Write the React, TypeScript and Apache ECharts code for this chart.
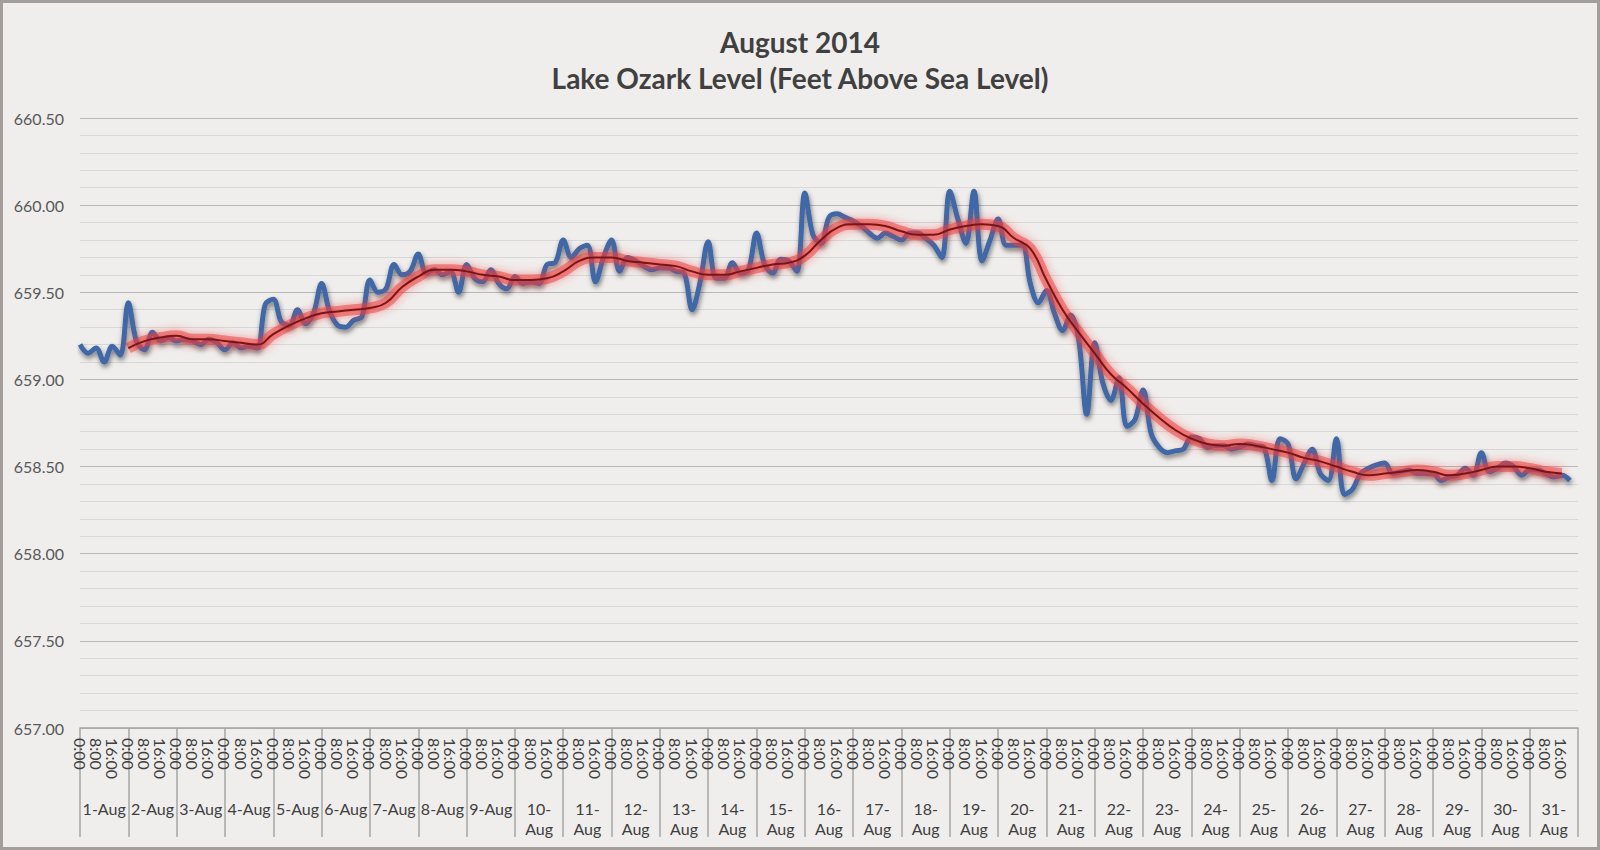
import { useEffect, useRef } from "react";
import * as echarts from "echarts";

// lake level read every 4 hours: 0:00, 4:00, 8:00, 12:00, 16:00, 20:00 of each day
const dayLabels = [
  "1-Aug", "2-Aug", "3-Aug", "4-Aug", "5-Aug", "6-Aug", "7-Aug", "8-Aug", "9-Aug", "10-Aug",
  "11-Aug", "12-Aug", "13-Aug", "14-Aug", "15-Aug", "16-Aug", "17-Aug", "18-Aug", "19-Aug", "20-Aug",
  "21-Aug", "22-Aug", "23-Aug", "24-Aug", "25-Aug", "26-Aug", "27-Aug", "28-Aug", "29-Aug", "30-Aug",
  "31-Aug",
];

const lakeLevel = [
  [659.2, 659.15, 659.18, 659.1, 659.19, 659.14],
  [659.44, 659.22, 659.17, 659.27, 659.22, 659.24],
  [659.22, 659.23, 659.22, 659.2, 659.23, 659.21],
  [659.17, 659.21, 659.18, 659.19, 659.18, 659.43],
  [659.46, 659.33, 659.31, 659.4, 659.32, 659.38],
  [659.55, 659.39, 659.31, 659.3, 659.34, 659.36],
  [659.57, 659.5, 659.52, 659.66, 659.6, 659.62],
  [659.72, 659.61, 659.63, 659.6, 659.62, 659.5],
  [659.66, 659.58, 659.56, 659.63, 659.55, 659.52],
  [659.59, 659.55, 659.56, 659.55, 659.66, 659.67],
  [659.8, 659.7, 659.75, 659.77, 659.56, 659.7],
  [659.8, 659.62, 659.7, 659.68, 659.65, 659.63],
  [659.64, 659.64, 659.62, 659.61, 659.4, 659.56],
  [659.79, 659.58, 659.58, 659.67, 659.61, 659.63],
  [659.84, 659.66, 659.61, 659.69, 659.68, 659.62],
  [660.07, 659.83, 659.78, 659.93, 659.95, 659.93],
  [659.91, 659.88, 659.84, 659.81, 659.84, 659.82],
  [659.8, 659.84, 659.84, 659.81, 659.77, 659.7],
  [660.08, 659.92, 659.78, 660.08, 659.68, 659.8],
  [659.92, 659.77, 659.77, 659.77, 659.55, 659.44],
  [659.51, 659.38, 659.28, 659.37, 659.23, 658.8],
  [659.21, 658.98, 658.88, 659.01, 658.73, 658.77],
  [658.94, 658.69, 658.61, 658.58, 658.59, 658.6],
  [658.67, 658.66, 658.61, 658.62, 658.62, 658.6],
  [658.61, 658.63, 658.62, 658.61, 658.42, 658.66],
  [658.63, 658.43, 658.52, 658.6, 658.46, 658.42],
  [658.66, 658.34, 658.37, 658.46, 658.49, 658.51],
  [658.52, 658.46, 658.47, 658.48, 658.46, 658.46],
  [658.46, 658.42, 658.44, 658.45, 658.49, 658.45],
  [658.58, 658.47, 658.49, 658.52, 658.5, 658.45],
  [658.48, 658.48, 658.46, 658.44, 658.45, 658.42],
];

// moving average, every 8 hours from 2-Aug 0:00
const movingAvg = [
  659.18, 659.22, 659.24, 659.25, 659.23, 659.23, 659.22, 659.21, 659.2, 659.26,
  659.31, 659.35, 659.38, 659.39, 659.4, 659.41, 659.44, 659.53, 659.59, 659.63,
  659.63, 659.62, 659.6, 659.59, 659.57, 659.57, 659.58, 659.62, 659.68, 659.7,
  659.7, 659.68, 659.67, 659.66, 659.65, 659.62, 659.6, 659.6, 659.62, 659.64,
  659.66, 659.67, 659.71, 659.8, 659.87, 659.89, 659.89, 659.88, 659.85, 659.83,
  659.83, 659.86, 659.88, 659.89, 659.88, 659.81, 659.75, 659.57, 659.4, 659.27,
  659.15, 659.03, 658.95, 658.86, 658.78, 658.71, 658.66, 658.63, 658.62, 658.63,
  658.62, 658.6, 658.58, 658.55, 658.53, 658.5, 658.47, 658.45, 658.46, 658.47,
  658.48, 658.47, 658.45, 658.46, 658.48, 658.5, 658.5, 658.49, 658.47, 658.46,
];

const FONT = "Lato, 'Noto Sans', sans-serif";

export default function App() {
  const chartRef = useRef<HTMLDivElement>(null);

  useEffect(() => {
    if (!chartRef.current) return;
    document.body.style.margin = "0";
    const chart = echarts.init(chartRef.current, undefined, { renderer: "svg" });

    const levelPoints = lakeLevel.flat().map((v, i) => [i * 4, v]);
    const avgPoints = movingAvg.map((v, i) => [24 + i * 8, v]);

    chart.setOption({
      animation: false,
      backgroundColor: "#efeeec",
      title: {
        text: "August 2014\nLake Ozark Level (Feet Above Sea Level)",
        left: "center",
        top: 19,
        textStyle: {
          fontFamily: FONT,
          fontSize: 28,
          fontWeight: "bold",
          color: "#404040",
          lineHeight: 36,
        },
      },
      graphic: [
        {
          type: "rect",
          silent: true,
          shape: { x: 1.5, y: 1.5, width: 1597, height: 847 },
          style: { fill: "none", stroke: "#a39e9a", lineWidth: 3 },
        },
      ],
      grid: { left: 80, right: 22, top: 118, bottom: 122 },
      xAxis: [
        {
          type: "value",
          min: 0,
          max: 744,
          interval: 8,
          axisLine: { show: true, lineStyle: { color: "#a6a6a6", width: 1.5 } },
          axisTick: { show: false },
          splitLine: { show: false },
          axisLabel: {
            rotate: -90,
            margin: 10,
            fontFamily: FONT,
            fontSize: 16,
            color: "#404040",
            showMaxLabel: false,
            formatter: (v: number) => (v >= 744 ? "" : `${v % 24}:00`),
          },
        },
        {
          type: "category",
          position: "bottom",
          data: dayLabels,
          axisLine: { show: false },
          axisTick: {
            show: true,
            interval: 0,
            length: 109,
            lineStyle: { color: "#a6a6a6", width: 1.5 },
          },
          axisLabel: {
            interval: 0,
            margin: 70,
            fontFamily: FONT,
            fontSize: 16,
            lineHeight: 20,
            color: "#404040",
            formatter: (s: string) => (s.length > 5 ? s.replace("-", "-\n") : s),
          },
        },
      ],
      yAxis: {
        type: "value",
        min: 657,
        max: 660.5,
        interval: 0.5,
        axisLine: { show: false },
        axisTick: { show: false },
        minorTick: { show: false, splitNumber: 5 },
        splitLine: { lineStyle: { color: "#b8b8b8", width: 1.2 } },
        minorSplitLine: { show: true, lineStyle: { color: "#d8d8d8", width: 1 } },
        axisLabel: {
          margin: 16,
          fontFamily: FONT,
          fontSize: 16,
          color: "#595959",
          formatter: (v: number) => v.toFixed(2),
        },
      },
      series: [
        {
          name: "Level",
          type: "line",
          data: levelPoints,
          showSymbol: false,
          smooth: 0.35,
          silent: true,
          z: 2,
          lineStyle: {
            color: "#3f67a7",
            width: 5,
            shadowColor: "rgba(0,0,0,0.5)",
            shadowBlur: 5,
            shadowOffsetX: 1,
            shadowOffsetY: 3,
          },
        },
        {
          name: "Glow",
          type: "line",
          data: avgPoints,
          showSymbol: false,
          smooth: true,
          silent: true,
          z: 3,
          lineStyle: {
            color: "rgba(236,60,60,0.5)",
            width: 11,
            shadowColor: "rgba(240,50,50,0.85)",
            shadowBlur: 10,
          },
        },
        {
          name: "Moving average",
          type: "line",
          data: avgPoints,
          showSymbol: false,
          smooth: true,
          silent: true,
          z: 4,
          lineStyle: { color: "#7d1414", width: 2 },
        },
      ],
    });

    return () => chart.dispose();
  }, []);

  return <div ref={chartRef} style={{ width: "1600px", height: "850px" }} />;
}
